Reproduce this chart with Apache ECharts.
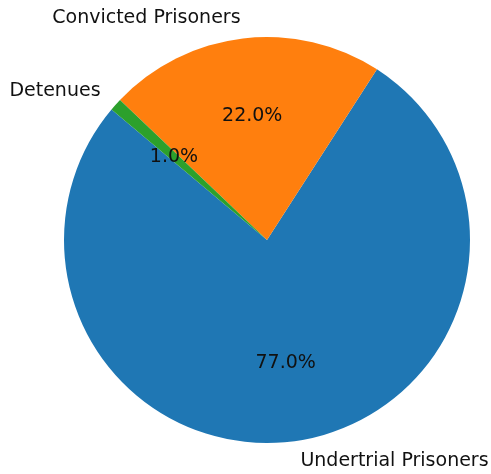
<!DOCTYPE html>
<html>
<head>
<meta charset="utf-8">
<script src="https://cdn.jsdelivr.net/npm/echarts@6/dist/echarts.min.js"></script>
<style>html,body{margin:0;padding:0;background:#fff;}#c{width:491px;height:474px;}</style>
</head>
<body>
<div id="c"></div>
<script>
const categories = ['Undertrial Prisoners', 'Convicted Prisoners', 'Detenues'];
const values = [77, 22, 1];
const colors = ['#1f77b4', '#ff7f0e', '#2ca02c'];

const R = 203;
const center = [267, 240];
const font = 'DejaVu Sans';
const data = categories.map((c, i) => ({ name: c, value: values[i], itemStyle: { color: colors[i] } }));

const chart = echarts.init(document.getElementById('c'), null, { renderer: 'canvas' });
chart.setOption({
  animation: false,
  series: [
    {
      type: 'pie',
      center: center,
      radius: [0, R],
      startAngle: 140,
      clockwise: false,
      avoidLabelOverlap: false,
      silent: true,
      data: data,
      label: {
        show: true,
        position: 'outside',
        formatter: '{b}',
        color: '#111',
        fontFamily: font,
        fontSize: 19,
        distanceToLabelLine: 0
      },
      labelLine: { show: false, length: R * 0.1, length2: 0 }
    },
    {
      type: 'pie',
      center: center,
      radius: [0, R * 1.2],
      startAngle: 140,
      clockwise: false,
      avoidLabelOverlap: false,
      silent: true,
      data: categories.map((c, i) => ({ name: c, value: values[i] })),
      itemStyle: { color: 'rgba(0,0,0,0)' },
      label: {
        show: true,
        position: 'inside',
        formatter: p => p.percent.toFixed(1) + '%',
        color: '#111',
        fontFamily: font,
        fontSize: 19
      },
      labelLine: { show: false }
    }
  ]
});
</script>
</body>
</html>
